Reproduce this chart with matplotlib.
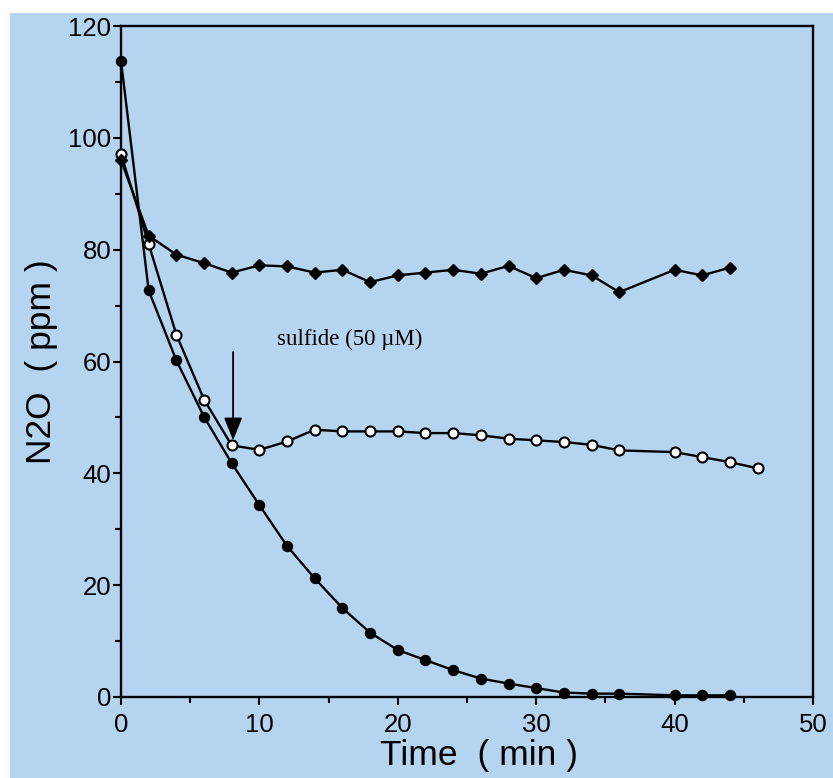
"""N2O concentration over time, three runs, one with sulfide added at 8 min."""

import matplotlib
matplotlib.use('Agg')
import matplotlib.pyplot as plt
from matplotlib.patches import Rectangle
from matplotlib.ticker import MultipleLocator


BG = '#b4d4f0'
TITLE_X = 'Time  ( min )'
TITLE_Y = 'N2O  ( ppm )'
NOTE = 'sulfide (50 \u00b5M)'

# Closed circles: no addition, N2O is consumed.
T_CLOSED = [0, 2, 4, 6, 8, 10, 12, 14, 16, 18, 20, 22, 24, 26, 28, 30, 32, 34, 36, 40, 42, 44]
N2O_CLOSED = [113.8, 72.7, 60.2, 50.1, 41.8, 34.3, 27.0, 21.2, 15.9, 11.5, 8.4, 6.6,
              4.8, 3.3, 2.4, 1.6, 0.8, 0.6, 0.6, 0.3, 0.3, 0.3]

# Open circles: sulfide added at 8 min.
T_OPEN = [0, 2, 4, 6, 8, 10, 12, 14, 16, 18, 20, 22, 24, 26, 28, 30, 32, 34, 36, 40, 42, 44, 46]
N2O_OPEN = [97.1, 81.0, 64.8, 53.2, 45.0, 44.2, 45.7, 47.8, 47.5, 47.5, 47.5, 47.2,
            47.2, 46.8, 46.2, 45.9, 45.6, 45.1, 44.1, 43.8, 42.9, 42.0, 40.9]

# Diamonds.
T_DIAMOND = [0, 2, 4, 6, 8, 10, 12, 14, 16, 18, 20, 22, 24, 26, 28, 30, 32, 34, 36, 40, 42, 44]
N2O_DIAMOND = [96.0, 82.5, 79.1, 77.6, 75.9, 77.2, 77.0, 75.9, 76.4, 74.2, 75.4, 75.9,
               76.4, 75.7, 77.1, 74.9, 76.4, 75.4, 72.4, 76.4, 75.4, 76.8]

SULFIDE_T = 8.1

plt.rcParams['font.family'] = ['Liberation Sans', 'DejaVu Sans']

fig = plt.figure(figsize=(8.33, 7.78), dpi=100, facecolor=BG)
# white margin of the scan, top and left
fig.patches.append(Rectangle((0, 1 - 13 / 778), 1, 13 / 778, transform=fig.transFigure,
                             facecolor='white', edgecolor='none', zorder=-1))
fig.patches.append(Rectangle((0, 0), 10 / 833, 1, transform=fig.transFigure,
                             facecolor='white', edgecolor='none', zorder=-1))

ax = fig.add_axes([121 / 833, 1 - 697 / 778, (813 - 121) / 833, (697 - 26) / 778])
ax.set_facecolor(BG)

line_kw = dict(color='black', linewidth=1.7, clip_on=False)
ax.plot(T_CLOSED, N2O_CLOSED, marker='o', markersize=7.2, markerfacecolor='black',
        markeredgecolor='black', zorder=3, **line_kw)
ax.plot(T_OPEN, N2O_OPEN, marker='o', markersize=7.2, markerfacecolor='white',
        markeredgecolor='black', markeredgewidth=1.5, zorder=4, **line_kw)
ax.plot(T_DIAMOND, N2O_DIAMOND, marker='D', markersize=6.2, markerfacecolor='black',
        markeredgecolor='black', zorder=5, **line_kw)

ax.annotate('', xy=(SULFIDE_T, 45.4), xytext=(SULFIDE_T, 62.2),
            arrowprops=dict(arrowstyle='-|>,head_length=0.7,head_width=0.28',
                            mutation_scale=20, color='black', linewidth=1.3))
ax.text(11.25, 63.0, NOTE, family=['Liberation Serif', 'DejaVu Serif'], fontsize=16.5,
        ha='left', va='baseline')

ax.set_xlim(0, 50)
ax.set_ylim(0, 120)
ax.xaxis.set_major_locator(MultipleLocator(10))
ax.xaxis.set_minor_locator(MultipleLocator(5))
ax.yaxis.set_major_locator(MultipleLocator(20))
ax.yaxis.set_minor_locator(MultipleLocator(10))

for side in ['top', 'right', 'bottom', 'left']:
    ax.spines[side].set_linewidth(1.7)
ax.tick_params(which='both', direction='out', width=1.5, top=False, right=False)
ax.tick_params(which='major', length=6, labelsize=18.5)
ax.tick_params(axis='x', which='major', pad=5.5)
ax.tick_params(axis='y', which='major', pad=1)
ax.tick_params(which='minor', length=4)

ax.set_xlabel(TITLE_X, fontsize=25.5, labelpad=-2)
ax.set_ylabel(TITLE_Y, fontsize=25.5, labelpad=7)
ax.xaxis.set_label_coords(0.517, -0.062, transform=ax.transAxes)
ax.xaxis.label.set_va('top')

fig.savefig('out.png', dpi=100, facecolor=BG)
